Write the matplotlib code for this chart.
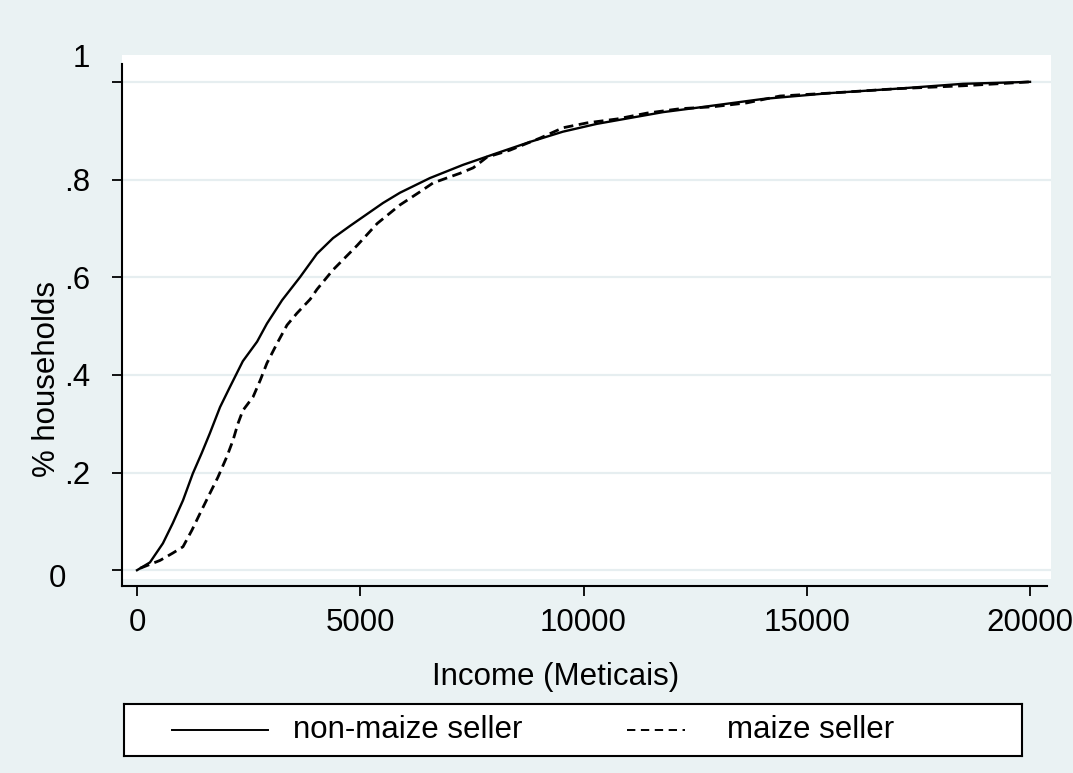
import numpy as np
import matplotlib.pyplot as plt
from matplotlib.lines import Line2D
from matplotlib.transforms import ScaledTranslation

plt.rcParams['font.family'] = ['Liberation Sans', 'DejaVu Sans']
plt.rcParams['lines.scale_dashes'] = False

# CDF of income
income_non = [0, 290, 580, 800, 1030, 1250, 1450, 1630, 1860, 2080, 2370, 2690,
              2910, 3250, 3650, 4030, 4390, 4770, 5510, 5890, 6560, 7300, 8060,
              8800, 9540, 10300, 11040, 11780, 12540, 13280, 14020, 15520,
              17020, 18500, 20000]
share_non = [0, .016, .055, .096, .143, .198, .24, .28, .334, .375, .428, .468,
             .505, .553, .60, .648, .68, .705, .752, .773, .803, .83, .854,
             .877, .898, .914, .926, .938, .947, .956, .965, .977, .986, .996,
             1.0]

income_maize = [70, 515, 800, 1030, 1230, 1410, 1630, 1810, 2010, 2150, 2260,
                2370, 2600, 2760, 2910, 3140, 3360, 3580, 3880, 4030, 4390,
                4930, 5380, 5890, 6340, 6630, 7240, 7530, 7840, 8350, 9030,
                9540, 10080, 10750, 11420, 12160, 12900, 13660, 14400, 15520,
                17020, 18500, 19260, 20000]
share_maize = [.004, .02, .035, .048, .082, .116, .157, .19, .232, .266, .30,
               .327, .355, .389, .424, .465, .502, .526, .555, .575, .615, .665,
               .71, .748, .775, .793, .813, .824, .846, .86, .885, .906, .916,
               .924, .936, .945, .949, .957, .971, .977, .986, .992, .996, 1.0]

xticks = [0, 5000, 10000, 15000, 20000]
yticks = [0, .2, .4, .6, .8, 1]
ylabels = ['0', '.2', '.4', '.6', '.8', '1']

bg = '#eaf2f3'
W, H = 1073, 773
fig = plt.figure(figsize=(W / 100, H / 100), dpi=100, facecolor=bg)
ax = fig.add_axes([122 / W, (H - 579) / H, (1051 - 122) / W, (579 - 55) / H])
ax.set_facecolor('white')

ax.plot(income_non, share_non, color='black', lw=1.7)
ax.plot(income_maize, share_maize, color='black', lw=2.0, dashes=(7, 4))

ax.set_xlim(-336, 20470)
ax.set_ylim(-0.018, 1.055)

for s in ['top', 'right']:
    ax.spines[s].set_visible(False)
ax.spines['bottom'].set_position(('outward', 5))
ax.spines['left'].set_bounds(-0.033, 1.037)
ax.spines['bottom'].set_bounds(-336, 20380)
for s in ['left', 'bottom']:
    ax.spines[s].set_linewidth(1.5)

ax.set_xticks(xticks)
ax.set_yticks(yticks)
ax.set_yticklabels(ylabels)
ax.yaxis.grid(True, color='#e6eef0', lw=1.6)
ax.set_axisbelow(True)
ax.tick_params(axis='both', length=7, width=1.3, labelsize=22.5, colors='black')
ax.tick_params(axis='x', pad=9)
ax.tick_params(axis='y', pad=16)

# the 0 and 1 labels sit a little off their ticks in the original
labs = ax.get_yticklabels()
labs[0].set_transform(labs[0].get_transform() + ScaledTranslation(-24 / 100, -5 / 100, fig.dpi_scale_trans))
labs[-1].set_transform(labs[-1].get_transform() + ScaledTranslation(0, 26 / 100, fig.dpi_scale_trans))

ax.set_xlabel('Income (Meticais)', fontsize=22.5)
ax.xaxis.set_label_coords(0.467, -0.158)
ax.set_ylabel('% households', fontsize=22.5)
ax.yaxis.set_label_coords(-0.065, 0.382)

# legend box
lg = fig.add_axes([124 / W, (H - 756) / H, (1022 - 124) / W, 52 / H])
lg.set_xlim(0, 1)
lg.set_ylim(0, 1)
lg.set_xticks([])
lg.set_yticks([])
for s in lg.spines.values():
    s.set_linewidth(1.5)
lg.add_line(Line2D([0.053, 0.160], [0.5, 0.5], color='black', lw=1.4))
lg.text(0.188, 0.5, 'non-maize seller', fontsize=22.5, va='center')
lg.add_line(Line2D([0.56, 0.625], [0.5, 0.5], color='black', lw=1.4,
                   dashes=(6, 4)))
lg.text(0.672, 0.5, 'maize seller', fontsize=22.5, va='center')

fig.savefig('out.png', dpi=100, facecolor=bg)
